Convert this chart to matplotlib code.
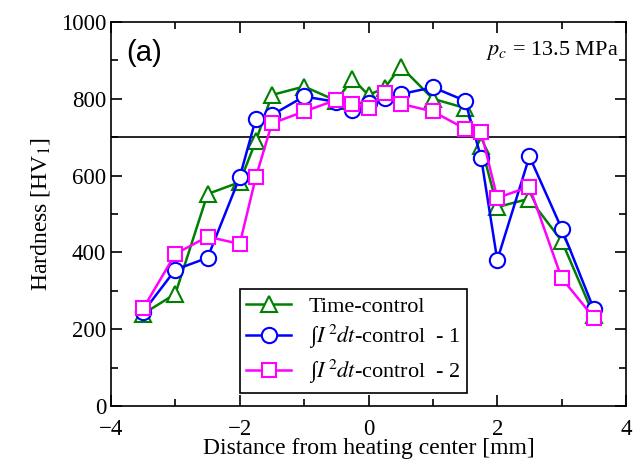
import matplotlib
matplotlib.use('Agg')
import matplotlib.pyplot as plt
import matplotlib.ticker as ticker

plt.rcParams['font.family'] = ['Liberation Serif', 'DejaVu Serif']
plt.rcParams['mathtext.fontset'] = 'stix'

# distance from heating center [mm]
x_pos = [-3.5, -3, -2.5, -2, -1.75, -1.5, -1, -0.5, -0.25, 0,
         0.25, 0.5, 1, 1.5, 1.75, 2, 2.5, 3, 3.5]

# hardness [HV1]
time_ctrl = [240, 292, 552, 583, 690, 810, 832, 795, 852, 810,
             828, 884, 800, 776, 678, 518, 540, 430, 236]
i2dt_1 = [245, 355, 386, 596, 748, 758, 806, 792, 772, 790,
          803, 812, 830, 795, 646, 380, 650, 462, 252]
i2dt_2 = [254, 396, 441, 422, 596, 736, 767, 797, 787, 776,
          815, 787, 767, 722, 713, 542, 571, 333, 230]

labels = ['Time-control',
          r'∫$I^{\,2}dt$-control  - 1',
          r'∫$I^{\,2}dt$-control  - 2']

fig = plt.figure(figsize=(6.43, 4.69), dpi=100)
ax = fig.add_axes([0.1726, 0.1343, 0.801, 0.8188])

ax.axhline(700, color='black', lw=1.2, zorder=1)

mk = dict(markerfacecolor='white', markeredgewidth=1.5, lw=1.8)
ax.plot(x_pos, time_ctrl, '-^', color='#008000', markersize=12, label=labels[0], **mk)
ax.plot(x_pos, i2dt_1, '-o', color='#0000ff', markersize=11, label=labels[1], **mk)
ax.plot(x_pos, i2dt_2, '-s', color='#ff00ff', markersize=10, label=labels[2], **mk)

ax.set_xlim(-4, 4)
ax.set_ylim(0, 1000)
ax.xaxis.set_major_locator(ticker.MultipleLocator(2))
ax.xaxis.set_minor_locator(ticker.MultipleLocator(1))
ax.yaxis.set_major_locator(ticker.MultipleLocator(200))
ax.yaxis.set_minor_locator(ticker.MultipleLocator(100))
ax.tick_params(which='both', direction='in', top=True, right=True, labelsize=16.5, width=1.2)
ax.tick_params(which='major', length=8)
ax.tick_params(axis='x', which='major', pad=9)
ax.tick_params(which='minor', length=5)
for s in ax.spines.values():
  s.set_linewidth(1.2)

ax.set_xlabel('Distance from heating center [mm]', fontsize=17, labelpad=-1)
ax.set_ylabel(r'Hardness [HV$_1$]', fontsize=17, labelpad=6)

ax.text(0.03, 0.955, '(a)', transform=ax.transAxes, fontsize=21,
        family='Liberation Sans', va='top', ha='left')
ax.text(0.985, 0.955, r'$p_c$ = 13.5 MPa', transform=ax.transAxes, fontsize=16,
        va='top', ha='right')

leg = ax.legend(loc='lower left', bbox_to_anchor=(0.25, 0.034), fontsize=16,
                frameon=True, fancybox=False, edgecolor='black', framealpha=1,
                handlelength=2.0, borderpad=0.3, labelspacing=0.3, handletextpad=0.8,
                borderaxespad=0)
leg.get_frame().set_linewidth(1.2)

fig.savefig('out.png', dpi=100)
